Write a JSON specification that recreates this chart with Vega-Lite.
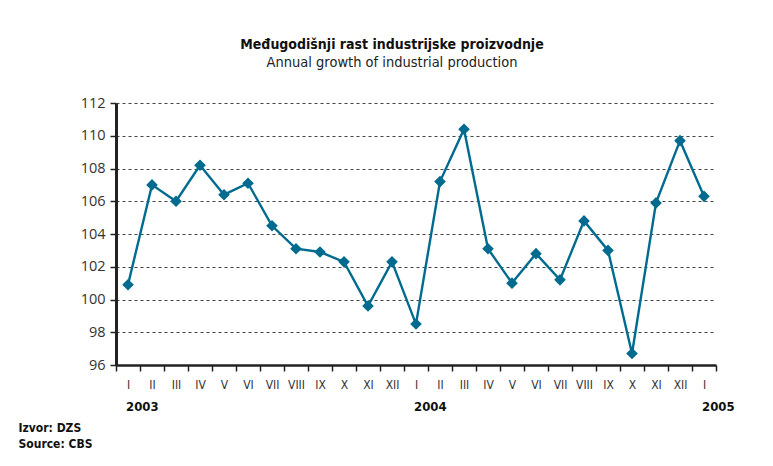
{
  "$schema": "https://vega.github.io/schema/vega-lite/v6.json",
  "width": 600,
  "height": 262,
  "autosize": {"type": "none"},
  "padding": {"left": 116, "top": 103, "right": 57, "bottom": 101},
  "background": "white",
  "config": {"view": {"stroke": null}},
  "title": {
    "text": "Međugodišnji rast industrijske proizvodnje",
    "subtitle": "Annual growth of industrial production",
    "anchor": "middle",
    "frame": "group",
    "dx": -24,
    "offset": 26,
    "font": "'DejaVu Sans Condensed', sans-serif",
    "fontSize": 14,
    "fontWeight": "bold",
    "color": "#111",
    "subtitleFont": "'DejaVu Sans Condensed', sans-serif",
    "subtitleFontSize": 14.5,
    "subtitleColor": "#222",
    "subtitlePadding": 4
  },
  "datasets": {
    "series": [
      {"period": "2003-I", "value": 100.9},
      {"period": "2003-II", "value": 107.0},
      {"period": "2003-III", "value": 106.0},
      {"period": "2003-IV", "value": 108.2},
      {"period": "2003-V", "value": 106.4},
      {"period": "2003-VI", "value": 107.1},
      {"period": "2003-VII", "value": 104.5},
      {"period": "2003-VIII", "value": 103.1},
      {"period": "2003-IX", "value": 102.9},
      {"period": "2003-X", "value": 102.3},
      {"period": "2003-XI", "value": 99.6},
      {"period": "2003-XII", "value": 102.3},
      {"period": "2004-I", "value": 98.5},
      {"period": "2004-II", "value": 107.2},
      {"period": "2004-III", "value": 110.4},
      {"period": "2004-IV", "value": 103.1},
      {"period": "2004-V", "value": 101.0},
      {"period": "2004-VI", "value": 102.8},
      {"period": "2004-VII", "value": 101.2},
      {"period": "2004-VIII", "value": 104.8},
      {"period": "2004-IX", "value": 103.0},
      {"period": "2004-X", "value": 96.7},
      {"period": "2004-XI", "value": 105.9},
      {"period": "2004-XII", "value": 109.7},
      {"period": "2005-I", "value": 106.3}
    ],
    "years": [
      {"period": "2003-I", "year": "2003", "value": 96},
      {"period": "2004-I", "year": "2004", "value": 96},
      {"period": "2005-I", "year": "2005", "value": 96}
    ]
  },
  "encoding": {
    "x": {
      "field": "period", "type": "ordinal", "sort": null,
      "scale": {"type": "band", "paddingInner": 0, "paddingOuter": 0},
      "axis": {
        "title": ["Izvor: DZS", "Source: CBS"],
        "titleX": -98,
        "titleY": 57,
        "titleAlign": "left",
        "titleBaseline": "top",
        "titleFont": "'DejaVu Sans Condensed', sans-serif",
        "titleFontSize": 12,
        "titleFontWeight": "bold",
        "titleColor": "#111",
        "titleLineHeight": 16,
        "labelExpr": "split(datum.label, '-')[1]",
        "labelAngle": 0,
        "labelFont": "'DejaVu Sans Condensed', sans-serif",
        "labelFontSize": 12,
        "labelColor": "#333",
        "labelPadding": 8,
        "labelOverlap": false,
        "tickBand": "extent",
        "tickColor": "#222",
        "tickSize": 6,
        "tickWidth": 1.5,
        "domainColor": "#222",
        "domainWidth": 2.5,
        "grid": false
      }
    },
    "y": {
      "field": "value", "type": "quantitative",
      "scale": {"domain": [96, 112], "nice": false, "zero": false},
      "axis": {
        "title": null,
        "values": [96, 98, 100, 102, 104, 106, 108, 110, 112],
        "labelOverlap": false,
        "labelFont": "'Open Sans', sans-serif",
        "labelFontSize": 14.5,
        "labelColor": "#333",
        "labelPadding": 5,
        "tickColor": "#222",
        "tickSize": 6,
        "tickWidth": 1.5,
        "domainColor": "#222",
        "domainWidth": 3,
        "grid": true,
        "gridColor": "#444",
        "gridDash": [3, 3],
        "gridWidth": 1
      }
    }
  },
  "layer": [
    {
      "data": {"name": "series"},
      "mark": {"type": "line", "color": "#006b8f", "strokeWidth": 2.4,
        "point": {"shape": "diamond", "size": 135, "filled": true, "color": "#006b8f", "opacity": 1}}
    },
    {
      "data": {"name": "years"},
      "mark": {"type": "text", "align": "left", "baseline": "middle", "dx": -2, "dy": 42,
        "font": "'DejaVu Sans Condensed', sans-serif", "fontSize": 13, "fontWeight": "bold", "color": "#111"},
      "encoding": {
        "text": {"field": "year"}
      }
    }
  ]
}
